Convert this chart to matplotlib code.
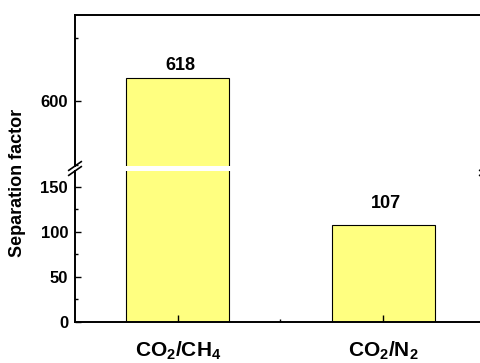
import numpy as np
import matplotlib.pyplot as plt
from matplotlib.ticker import MultipleLocator

plt.rcParams['font.family'] = 'Liberation Sans'
plt.rcParams['font.weight'] = 'bold'
plt.rcParams['mathtext.fontset'] = 'custom'
plt.rcParams['mathtext.rm'] = 'Liberation Sans:bold'
plt.rcParams['mathtext.bf'] = 'Liberation Sans:bold'
plt.rcParams['mathtext.it'] = 'Liberation Sans:bold'

# data
categories = [r'CO$_2$/CH$_4$', r'CO$_2$/N$_2$']
values = [618, 107]
label_offsets = [3, 10]  # text offset above bar, points

W, H = 481, 363
fig = plt.figure(figsize=(W / 100, H / 100), dpi=100)

# axes placed in pixels (right edge sits just past the figure, as in the reference)
left, right = 75, 486
ax_lo = fig.add_axes([left / W, (H - 322) / H, (right - left) / W, 150.7 / H])
ax_hi = fig.add_axes([left / W, (H - 166) / H, (right - left) / W, 151 / H])

x = np.arange(1, len(values) + 1)
for ax in (ax_lo, ax_hi):
    ax.bar(x, values, width=0.5, color='#ffff80', edgecolor='black', linewidth=0.8)
    ax.set_xlim(0.5, 2.5)
    for s in ax.spines.values():
        s.set_linewidth(1.4)
    ax.tick_params(which='both', direction='in', width=1.0, labelsize=12)
    ax.tick_params(which='major', length=4)
    ax.tick_params(which='minor', length=2.2)

ax_lo.set_ylim(0, 167)
ax_hi.set_ylim(549, 668)

ax_lo.spines['top'].set_visible(False)
ax_hi.spines['bottom'].set_visible(False)

ax_lo.yaxis.set_major_locator(MultipleLocator(50))
ax_lo.yaxis.set_minor_locator(MultipleLocator(25))
ax_hi.yaxis.set_major_locator(MultipleLocator(100))
ax_hi.yaxis.set_minor_locator(MultipleLocator(50))
ax_hi.tick_params(axis='y', which='major', pad=5)
ax_lo.tick_params(axis='y', which='major', pad=5)

ax_lo.set_xticks(x)
ax_lo.set_xticklabels(categories, fontsize=15, fontweight='bold')
ax_lo.set_xticks([1.5], minor=True)
ax_lo.tick_params(axis='x', which='major', length=5, pad=13)
ax_lo.tick_params(axis='x', which='minor', length=2.5)
ax_hi.set_xticks([])
ax_hi.set_xticks([], minor=True)

# value labels
for xi, v, off in zip(x, values, label_offsets):
    ax = ax_hi if v > 549 else ax_lo
    ax.annotate(str(v), (xi, v), xytext=(2, off), textcoords='offset points',
                ha='center', va='bottom', fontsize=13, fontweight='bold')

# break marks on the spines
d = 0.013
kw = dict(transform=fig.transFigure, color='black', linewidth=1.2, clip_on=False)
yb = (H - 168.5) / H
for xs in (left / W, right / W):
    for dy in (-2.5 / H, 2.5 / H):
        fig.add_artist(plt.Line2D([xs - d, xs + d], [yb + dy - 0.012, yb + dy + 0.012], **kw))

fig.text(18 / W, (H - 183) / H, 'Separation factor', rotation=90, ha='center', va='center',
         fontsize=13, fontweight='bold')

fig.savefig('out.png', dpi=100)
